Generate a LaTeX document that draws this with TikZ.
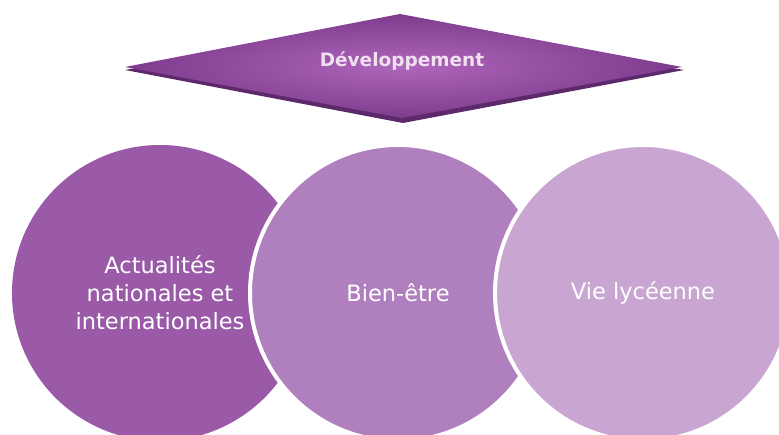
\documentclass[tikz,border=0pt]{standalone}
\usepackage{fontspec}
\setmainfont{DejaVu Sans}
\definecolor{cA}{HTML}{9A5AA8}
\definecolor{cB}{HTML}{B07FBE}
\definecolor{cC}{HTML}{C9A6D1}
\definecolor{dIn}{HTML}{AE66BA}
\definecolor{dOut}{HTML}{7E3B8E}
\definecolor{dDark}{HTML}{5C296B}
\tikzset{
  bubble/.style={circle, minimum size=296pt, inner sep=0pt, align=center,
    text=white, font=\fontsize{22.5}{28}\selectfont, draw=white, line width=4pt},
}
\begin{document}
\begin{tikzpicture}[x=1pt,y=-1pt]
\useasboundingbox (0,0) rectangle (779,435);
\begin{scope}
\clip (0,0) rectangle (779,435);
\node[bubble, fill=cA, draw=none] (a) at (160,293) {Actualités\\nationales et\\internationales};
\node[bubble, fill=cB] (b) at (398,293) {Bien-être};
\node[bubble, fill=cC] (c) at (643,293) {Vie lycéenne};
\end{scope}
% diamond extrusion
\fill[dDark] (125,70) -- (400,20) -- (684,70) -- (403,123) -- cycle;
\shade[inner color=dIn, outer color=dOut] (125,67) -- (400,14) -- (682,67) -- (402,118) -- cycle;
\node[text=white!88!violet, font=\bfseries\fontsize{18.5}{22}\selectfont] (d) at (402,61) {Développement};
\end{tikzpicture}
\end{document}
